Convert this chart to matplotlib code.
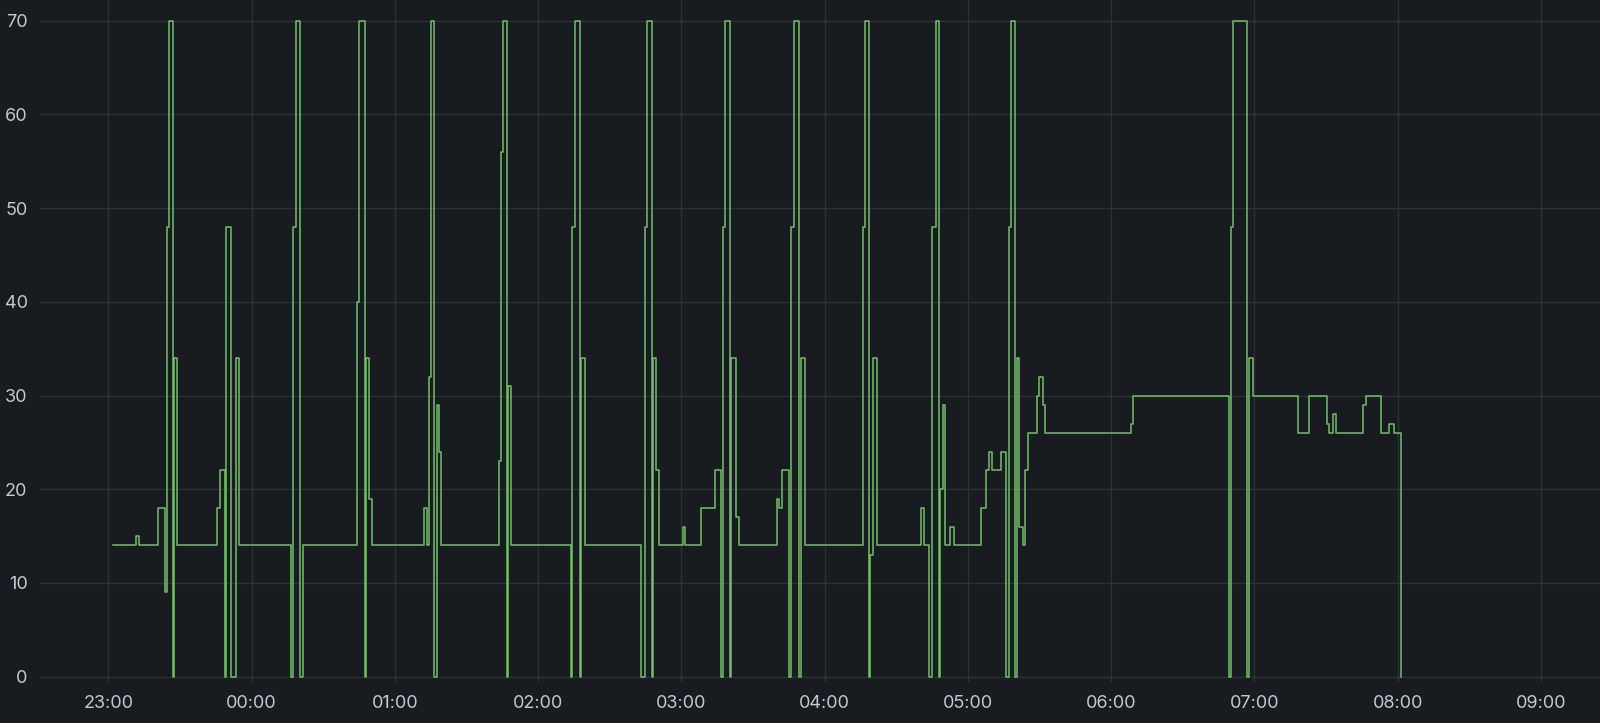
import matplotlib
matplotlib.use("Agg")
import matplotlib.pyplot as plt
import matplotlib.dates as mdates
import numpy as np
import pandas as pd

# minutes after 23:00 at which the value changes, and the new value
minutes = [2.1, 11.6, 13.0,
           20.8, 23.7, 24.6, 25.4, 27.1, 27.7, 28.8,
           45.4, 46.6, 48.7, 49.4, 51.2, 53.5, 54.6,
           76.4, 77.2, 78.6, 80.3, 81.7,
           104.3, 105.1, 107.4, 107.9, 109.0, 110.4,
           132.2, 133.3,
           134.4, 135.3, 136.4, 137.5, 138.6, 139.4,
           163.5, 164.3, 165.4, 166.8, 167.4, 168.8,
           193.6, 194.2, 195.3, 197.5, 198.1, 199.7,
           222.9, 224.6, 225.4, 227.7, 228.2, 229.3, 230.7,
           240.5, 241.6,
           248.3, 254.2, 256.7, 257.5, 258.4, 260.3, 260.9, 262.9, 264.2,
           279.9, 280.7, 282.1, 285.2, 286.0, 287.1, 289.4, 290.0, 291.6,
           315.9, 316.7, 318.7, 318.9, 320.1, 321.8,
           340.5, 341.6, 343.5, 344.9, 346.6, 347.7, 348.3, 349.4, 350.5, 352.5, 354.1,
           365.3, 367.6, 368.7, 370.1, 373.7, 375.9, 377.3, 378.2, 379.6, 380.7,
           381.5, 382.9, 383.7, 385.1, 388.8, 389.6, 391.3, 392.4,
           428.1, 429.2,
           469.2, 470.0, 470.9, 476.7, 477.8, 479.2,
           498.2, 502.7, 510.2, 511.1, 513.0, 514.1,
           525.3, 526.7, 533.1, 536.4, 538.4, 541.5]
values = [14, 15, 14,
          18, 9, 48, 70, 0, 34, 14,
          18, 22, 0, 48, 0, 34, 14,
          0, 48, 70, 0, 14,
          40, 70, 0, 34, 19, 14,
          18, 14,
          32, 70, 0, 29, 24, 14,
          23, 56, 70, 0, 31, 14,
          0, 48, 70, 0, 34, 14,
          0, 48, 70, 0, 34, 22, 14,
          16, 14,
          18, 22, 0, 48, 70, 0, 34, 17, 14,
          19, 18, 22, 0, 48, 70, 0, 34, 14,
          48, 70, 0, 13, 34, 14,
          18, 14, 0, 48, 70, 0, 20, 29, 14, 16, 14,
          18, 22, 24, 22, 24, 0, 48, 70, 0, 34,
          16, 14, 22, 26, 30, 32, 29, 26,
          27, 30,
          0, 48, 70, 0, 34, 30,
          26, 30, 27, 26, 28, 26,
          29, 30, 26, 27, 26, 0]

y_ticks = [0, 10, 20, 30, 40, 50, 60, 70]

base = pd.Timestamp("2024-01-01 23:00")
t = base + pd.to_timedelta(minutes, unit="m")

bg = "#181b1f"
grid_c = "#2d3035"
text_c = "#c3c7cf"
line_c = "#73bf69"

fig = plt.figure(figsize=(16, 7.23), dpi=100, facecolor=bg)
ax = fig.add_axes([0.025, 0.0567, 0.975, 0.9433])
ax.set_facecolor(bg)

ax.step(t, values, where="post", color=line_c, lw=1.1, zorder=3)

ax.set_xlim(base - pd.Timedelta(minutes=28.6), base + pd.Timedelta(minutes=624.7))
ax.set_ylim(-0.57, 72.2)
ax.set_yticks(y_ticks)

ax.xaxis.set_major_locator(mdates.HourLocator())
ax.xaxis.set_major_formatter(mdates.DateFormatter("%H:%M"))

ax.grid(True, color=grid_c, lw=1)
ax.set_axisbelow(True)
for s in ax.spines.values():
    s.set_visible(False)

ax.tick_params(axis="both", length=0, colors=text_c, labelsize=13)
ax.tick_params(axis="y", pad=9)
ax.tick_params(axis="x", pad=9)
for lab in ax.get_xticklabels() + ax.get_yticklabels():
    lab.set_fontfamily("Inter")

fig.savefig("out.png", dpi=100, facecolor=bg)
